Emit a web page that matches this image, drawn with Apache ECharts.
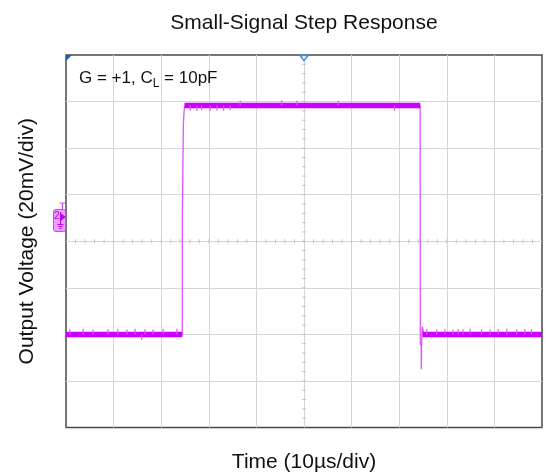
<!DOCTYPE html>
<html>
<head>
<meta charset="utf-8">
<script src="https://cdn.jsdelivr.net/npm/echarts@6/dist/echarts.min.js"></script>
<style>
  html, body { margin: 0; padding: 0; background: #fff; }
  #chart { width: 546px; height: 472px; }
</style>
</head>
<body>
<div id="chart"></div>
<script>
// Scope capture of a small-signal step: 10 µs/div horizontally, 20 mV/div vertically.
const FONT = "'Liberation Sans', Arial, sans-serif";

const timeMin = 0, timeMax = 100, timeDiv = 10;     // µs
const voltMin = -80, voltMax = 80, voltDiv = 20;    // mV
const timeMinorStep = 2, voltMinorStep = 4;         // crosshair tick spacing

// Settled parts of the trace: start (µs), end (µs), level (mV)
const settledStart = [0, 24.9, 74.9];
const settledEnd   = [24.43, 74.43, 100];
const settledMv    = [-40, 58.3, -40];

// Rising edge
const riseTime = [24.43, 24.44, 24.64, 24.66, 24.8, 24.95];
const riseMv   = [-40, 10.4, 11, 50.5, 55.5, 58.3];

// Falling edge with undershoot and ringing
const fallTime = [74.40, 74.43, 74.62, 74.64, 74.70, 74.84, 75.0, 75.2, 75.5];
const fallMv   = [58.3, -44, -45, -55, -45, -36.6, -38, -41, -40];

// Noise spikes on the settled levels: time (µs), tip (mV)
const spikeTime = [0.8, 3.6, 5.7, 8.8, 10.9, 12.8, 14.5, 15.9, 16.6, 18.3, 20.4, 23.3,
                   26.1, 27.5, 28.5, 30.3, 31.7, 33.1, 34.5, 36.6, 45.3, 48.5, 57.2, 69.0,
                   75.8, 77.9, 79.6, 81.3, 82.4, 83.4, 84.9, 87.3, 89.1, 90.8, 92.6, 94.7, 96.4, 97.8];
const spikeTipMv = [-37.8, -37.6, -37.9, -37.8, -37.7, -37.9, -37.6, -42.4, -37.8, -37.9, -37.7, -37.6,
                    56.2, 56.0, 56.3, 56.1, 56.2, 56.0, 56.3, 60.4, 60.5, 60.3, 60.4, 56.0,
                    -37.7, -37.8, -37.6, -37.9, -37.7, -37.8, -37.6, -37.8, -37.9, -37.7, -37.6, -37.8, -37.7, -37.8];

// Channel 2 reference marker level (mV)
const chan2RefMv = 10.4;

const titleText = 'Small-Signal Step Response';
const xName = 'Time (10µs/div)';
const yName = 'Output Voltage (20mV/div)';

const TRACE = '#cc00ff';
const EDGE = '#dd55ff';

function levelAt(t) {
  for (let i = 0; i < settledStart.length; i++) {
    if (t >= settledStart[i] && t <= settledEnd[i]) return settledMv[i];
  }
  return settledMv[0];
}

const settledData = settledStart.map((s, i) => [s, settledEnd[i], settledMv[i]]);
const riseData = riseTime.map((t, i) => [t, riseMv[i]]);
const fallData = fallTime.map((t, i) => [t, fallMv[i]]);
const spikeData = spikeTime.map((t, i) => [t, levelAt(t), spikeTipMv[i]]);

// Small ticks along the centre crosshair
const crossTicks = [];
for (let t = timeMin + timeMinorStep; t < timeMax; t += timeMinorStep) crossTicks.push([t, 0, 0]);
for (let v = voltMin + voltMinorStep; v < voltMax; v += voltMinorStep) crossTicks.push([(timeMin + timeMax) / 2, v, 1]);

const chart = echarts.init(document.getElementById('chart'));

const axisCommon = {
  type: 'value',
  axisLine: { show: false },
  axisTick: { show: false },
  axisLabel: { show: false },
  splitLine: { show: true, showMinLine: false, showMaxLine: false, lineStyle: { color: '#d5d5d5', width: 1 } },
  nameLocation: 'middle',
  nameTextStyle: { fontFamily: FONT, fontSize: 21, color: '#111' }
};

chart.setOption({
  animation: false,
  backgroundColor: '#fff',
  grid: {
    left: 66, top: 55, right: 4, bottom: 44.5,
    outerBoundsMode: 'none',
    containLabel: false,
    show: true, borderColor: '#4a4a4a', borderWidth: 1.5, backgroundColor: '#fff'
  },
  xAxis: Object.assign({}, axisCommon, {
    min: timeMin, max: timeMax, interval: timeDiv,
    name: xName, nameGap: 24
  }),
  yAxis: Object.assign({}, axisCommon, {
    min: voltMin, max: voltMax, interval: voltDiv,
    name: yName, nameGap: 28
  }),
  series: [
    {
      type: 'custom',
      name: 'crosshair ticks',
      silent: true,
      data: crossTicks,
      z: 1,
      renderItem: function (params, api) {
        const p = api.coord([api.value(0), api.value(1)]);
        const vert = api.value(2) === 0;
        return {
          type: 'line',
          shape: vert ? { x1: p[0], y1: p[1] - 2, x2: p[0], y2: p[1] + 2 }
                      : { x1: p[0] - 2, y1: p[1], x2: p[0] + 2, y2: p[1] },
          style: { stroke: '#c4c4c4', lineWidth: 1 }
        };
      }
    },
    {
      type: 'line',
      name: 'rising edge',
      data: riseData,
      showSymbol: false,
      lineStyle: { color: EDGE, width: 1.3 },
      z: 3
    },
    {
      type: 'line',
      name: 'falling edge',
      data: fallData,
      showSymbol: false,
      lineStyle: { color: EDGE, width: 1.3 },
      z: 3
    },
    {
      type: 'custom',
      name: 'settled',
      data: settledData,
      z: 4,
      renderItem: function (params, api) {
        const a = api.coord([api.value(0), api.value(2)]);
        const b = api.coord([api.value(1), api.value(2)]);
        return {
          type: 'line',
          shape: { x1: a[0], y1: a[1], x2: b[0], y2: b[1] },
          style: { stroke: TRACE, lineWidth: 5.5, lineCap: 'butt' }
        };
      }
    },
    {
      type: 'custom',
      name: 'noise',
      data: spikeData,
      z: 5,
      renderItem: function (params, api) {
        const a = api.coord([api.value(0), api.value(1)]);
        const b = api.coord([api.value(0), api.value(2)]);
        return {
          type: 'line',
          shape: { x1: a[0], y1: a[1], x2: b[0], y2: b[1] },
          style: { stroke: EDGE, lineWidth: 1.2 }
        };
      }
    }
  ]
});

// Decorations placed from the axis scales
const topLeft = chart.convertToPixel({ gridIndex: 0 }, [timeMin, voltMax]);
const botRight = chart.convertToPixel({ gridIndex: 0 }, [timeMax, voltMin]);
const trig = chart.convertToPixel({ gridIndex: 0 }, [(timeMin + timeMax) / 2, voltMax]);
const ch2 = chart.convertToPixel({ gridIndex: 0 }, [timeMin, chan2RefMv]);
const cx = (topLeft[0] + botRight[0]) / 2;
const x0 = topLeft[0], y0 = topLeft[1], cy = ch2[1];
const MARK = '#b300e6';

chart.setOption({
  graphic: [
    {
      type: 'text', x: cx, y: 13, z: 10,
      style: { text: titleText, font: '21px ' + FONT, fill: '#111', textAlign: 'center' }
    },
    {
      type: 'text', x: x0 + 13, y: y0 + 12, z: 10,
      style: {
        text: '{m|G = +1, C}{s|L}{m| = 10pF}',
        rich: {
          m: { fontFamily: FONT, fontSize: 17, lineHeight: 23, fill: '#111', color: '#111' },
          s: { fontFamily: FONT, fontSize: 12, lineHeight: 12, verticalAlign: 'bottom', fill: '#111', color: '#111' }
        }
      }
    },
    {
      type: 'polygon', z: 10,
      shape: { points: [[x0, y0], [x0 + 6, y0], [x0, y0 + 6]] },
      style: { fill: '#1f5fbf' }
    },
    {
      type: 'polygon', z: 10,
      shape: { points: [[trig[0] - 4, trig[1] + 0.5], [trig[0] + 4, trig[1] + 0.5], [trig[0], trig[1] + 5.5]] },
      style: { fill: '#fff', stroke: '#3d8ef0', lineWidth: 1.5 }
    },
    {
      type: 'group', z: 10,
      children: [
        { type: 'line', shape: { x1: x0 - 3.5, y1: cy - 7.5, x2: x0 - 3.5, y2: cy - 14 }, style: { stroke: '#d040ff', lineWidth: 1 } },
        { type: 'line', shape: { x1: x0 - 6.5, y1: cy - 14, x2: x0 - 0.5, y2: cy - 14 }, style: { stroke: '#d040ff', lineWidth: 1 } },
        { type: 'rect', shape: { x: x0 - 12.5, y: cy - 7.5, width: 12, height: 22, r: 2 }, style: { fill: '#ef9cff', stroke: '#d040ff', lineWidth: 1 } },
        { type: 'text', x: x0 - 12, y: cy - 6, style: { text: '2', font: '10px ' + FONT, fill: MARK } },
        { type: 'line', shape: { x1: x0 - 5.5, y1: cy - 5, x2: x0 - 5.5, y2: cy + 7 }, style: { stroke: MARK, lineWidth: 1 } },
        { type: 'polygon', shape: { points: [[x0 - 5, cy - 3.5], [x0, cy], [x0 - 5, cy + 3.5]] }, style: { fill: MARK } },
        { type: 'line', shape: { x1: x0 - 8.5, y1: cy + 7.5, x2: x0 - 2.5, y2: cy + 7.5 }, style: { stroke: MARK, lineWidth: 1 } },
        { type: 'line', shape: { x1: x0 - 7.5, y1: cy + 9.5, x2: x0 - 3.5, y2: cy + 9.5 }, style: { stroke: MARK, lineWidth: 1 } },
        { type: 'line', shape: { x1: x0 - 6.5, y1: cy + 11.5, x2: x0 - 4.5, y2: cy + 11.5 }, style: { stroke: MARK, lineWidth: 1 } }
      ]
    }
  ]
});
</script>
</body>
</html>
